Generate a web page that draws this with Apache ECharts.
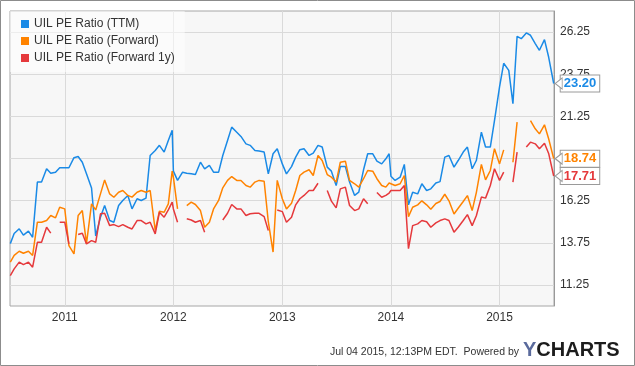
<!DOCTYPE html>
<html><head><meta charset="utf-8">
<script src="https://cdn.jsdelivr.net/npm/echarts@6/dist/echarts.min.js"></script>
<style>html,body{margin:0;padding:0;background:#fff}#c{width:635px;height:366px}</style>
</head><body><div id="c"></div>
<script>
const dates = ['2010-07-02','2010-07-15','2010-08-01','2010-08-15','2010-09-01','2010-09-15','2010-10-01','2010-10-15','2010-11-01','2010-11-15','2010-12-01','2010-12-15',
'2011-01-01','2011-01-15','2011-02-01','2011-02-15','2011-03-01','2011-03-15','2011-04-01','2011-04-15','2011-05-01','2011-05-15','2011-06-01','2011-06-15','2011-07-01','2011-07-15','2011-08-01','2011-08-15','2011-09-01','2011-09-15','2011-10-01','2011-10-15','2011-11-01','2011-11-15','2011-12-01','2011-12-15','2011-12-28',
'2012-01-01','2012-01-15','2012-02-01','2012-02-15','2012-03-01','2012-03-15','2012-04-01','2012-04-15','2012-05-01','2012-05-15','2012-06-01','2012-06-15','2012-07-01','2012-07-15','2012-08-01','2012-08-15','2012-09-01','2012-09-15','2012-10-01','2012-10-15','2012-11-01','2012-11-15','2012-12-01','2012-12-15',
'2013-01-01','2013-01-15','2013-02-01','2013-02-15','2013-03-01','2013-03-15','2013-04-01','2013-04-15','2013-05-01','2013-05-15','2013-06-01','2013-06-15','2013-07-01','2013-07-15','2013-08-01','2013-08-15','2013-09-01','2013-09-15','2013-10-01','2013-10-15','2013-11-01','2013-11-15','2013-12-01','2013-12-15','2013-12-26',
'2014-01-01','2014-01-15','2014-02-01','2014-02-15','2014-03-01','2014-03-15','2014-04-01','2014-04-15','2014-05-01','2014-05-15','2014-06-01','2014-06-15','2014-07-01','2014-07-15','2014-08-01','2014-08-15','2014-09-01','2014-09-15','2014-10-01','2014-10-15','2014-11-01','2014-11-15','2014-12-01','2014-12-15',
'2015-01-01','2015-01-15','2015-02-01','2015-02-15','2015-03-01','2015-03-15','2015-04-01','2015-04-15','2015-05-01','2015-05-15','2015-06-01','2015-06-15','2015-07-02'];

const ttm = [13.7,14.3,14.58,14.2,14.44,14.08,17.35,17.35,18.14,17.88,17.94,18.2,
18.2,18.2,18.8,18.87,18.53,17.84,17.0,14.15,15.27,15.96,15.07,14.97,15.96,16.26,16.56,15.76,16.36,16.26,16.4,18.93,19.23,19.53,19.13,19.82,20.42,
18.0,17.45,17.94,17.88,17.84,17.8,18.53,18.14,18.34,17.94,17.94,18.93,19.82,20.61,20.31,20.06,19.62,19.53,19.23,19.19,19.13,17.84,19.03,19.33,
18.43,17.84,18.27,18.83,19.27,19.33,18.93,19.07,19.53,19.43,18.24,18.0,17.15,18.27,18.27,17.35,16.56,16.75,18.08,19.03,19.03,18.59,18.43,18.73,19.03,
17.7,17.45,17.64,18.4,16.0,16.75,16.65,17.25,16.85,16.95,17.3,17.38,18.83,18.93,18.24,18.63,19.13,19.43,18.14,18.63,20.31,19.43,19.43,21.0,
23.0,24.4,23.98,22.0,26.0,25.86,26.2,26.06,25.57,25.17,25.8,24.77,23.2];

const fwd = [12.6,13.0,13.25,13.13,13.25,13.0,14.97,14.97,15.07,15.37,15.23,15.86,
15.76,13.58,13.09,15.37,15.66,13.7,16.06,15.7,16.65,17.48,16.65,16.45,16.75,16.85,16.56,16.46,16.75,16.85,16.75,16.85,14.48,15.62,15.56,16.06,18.0,
17.64,15.76,null,15.96,16.16,16.02,15.66,14.67,14.97,15.76,16.26,17.01,17.45,17.68,17.45,17.45,17.15,17.05,17.35,17.45,17.4,15.0,13.2,17.45,
16.36,15.76,16.1,16.85,17.74,17.94,18.08,17.74,18.93,18.63,17.8,17.64,17.35,18.53,18.59,17.45,17.25,17.05,17.55,18.04,18.0,17.55,17.15,17.05,17.3,
17.3,17.15,17.25,17.74,15.3,15.86,16.0,16.24,16.0,15.74,16.08,16.2,16.63,16.24,15.46,15.8,16.2,16.55,15.66,16.73,18.4,17.48,18.04,19.33,
18.43,19.26,null,18.53,20.91,null,null,21.0,20.51,20.21,20.75,19.92,18.74];

const fwd1y = [11.8,12.2,12.6,12.45,12.6,12.3,13.78,13.78,14.67,14.32,null,14.97,
14.97,13.68,null,14.24,14.32,13.68,13.88,13.78,15.47,15.5,14.77,14.83,14.71,14.83,14.67,14.57,15.07,15.07,14.87,14.97,14.28,15.56,15.27,15.7,16.16,
15.76,14.97,null,15.17,15.1,14.97,15.07,14.38,null,null,null,15.1,15.5,16.02,15.76,15.76,15.37,15.47,15.5,15.5,15.3,14.48,null,15.7,
15.6,14.97,15.27,16.0,16.36,16.56,16.85,16.85,17.28,null,16.85,16.22,15.82,16.95,17.05,15.96,15.66,15.76,16.36,16.06,null,16.73,16.45,16.56,16.7,
16.85,16.85,16.85,17.15,13.4,14.77,14.87,15.07,15.0,14.67,14.93,15.07,15.17,15.07,14.38,14.67,15.07,15.42,14.77,15.35,16.46,16.4,17.15,18.14,
17.45,17.94,null,17.35,19.13,null,19.43,19.72,19.62,19.33,19.66,19.05,17.71];

const seriesNames = ['UIL PE Ratio (TTM)', 'UIL PE Ratio (Forward)', 'UIL PE Ratio (Forward 1y)'];
const yTicks = [11.25, 13.75, 16.25, 18.75, 21.25, 23.75, 26.25];
const xTicks = ['2011-01-01','2012-01-01','2013-01-01','2014-01-01','2015-01-01'];
const colors = ['#1a8ae6', '#ff8300', '#e5393c'];

const ts = d => Date.parse(d);
const pairs = vals => dates.map((d, i) => [ts(d), vals[i] == null ? '-' : vals[i]]);
const font = 'Arial, "Liberation Sans", sans-serif';

function mk(name, vals, color) {
  const last = dates.length - 1;
  return {
    type: 'line', name, data: pairs(vals), showSymbol: false, symbol: 'none',
    connectNulls: false, animation: false,
    lineStyle: { width: 1.5, color }, itemStyle: { color },
    endLabel: {
      show: true, formatter: p => Number(p.value[1]).toFixed(2),
      color, fontWeight: 'bold', fontSize: 13, fontFamily: font,
      backgroundColor: '#fff', borderColor: '#9a9a9a', borderWidth: 1,
      padding: [2, 3, 1, 3], distance: 7
    },
    markPoint: {
      silent: true, animation: false, label: { show: false },
      symbol: 'path://M0,5 L7,0 L7,10 Z', symbolSize: [7, 11], symbolOffset: [5, 0],
      itemStyle: { color: '#fff', borderColor: '#9a9a9a', borderWidth: 1 },
      data: [{ coord: [ts(dates[last]), vals[last]] }]
    }
  };
}

const chart = echarts.init(document.getElementById('c'), null, { renderer: 'canvas' });
chart.setOption({
  animation: false,
  grid: { left: 10, right: 81, top: 11, bottom: 60, show: true, backgroundColor: '#f7f7f7', borderColor: '#a6a6a6', borderWidth: 1 },
  legend: {
    orient: 'vertical', left: 10, top: 11, padding: [7, 10, 8, 11], itemGap: 5,
    itemWidth: 8, itemHeight: 8, icon: 'rect', selectedMode: false,
    backgroundColor: 'rgba(255,255,255,0.5)',
    textStyle: { fontSize: 12, color: '#333', fontFamily: font },
    data: seriesNames
  },
  xAxis: {
    type: 'value', min: ts('2010-07-01'), max: ts('2015-07-03'),
    axisLine: { show: false },
    axisTick: { show: false, customValues: xTicks.map(ts) },
    axisLabel: { customValues: xTicks.map(ts), formatter: v => String(new Date(v).getUTCFullYear()), color: '#333', fontSize: 12, fontFamily: font, margin: 6 },
    splitLine: { show: true, lineStyle: { color: '#dadada' } }
  },
  yAxis: {
    type: 'value', position: 'right', min: 10, max: 27.5,
    axisLine: { show: true, lineStyle: { color: '#999' } },
    axisTick: { show: false, customValues: yTicks },
    axisLabel: { customValues: yTicks, formatter: v => v.toFixed(2), color: '#333', fontSize: 12, fontFamily: font, margin: 6 },
    splitLine: { show: true, lineStyle: { color: '#dadada' } }
  },
  series: [mk(seriesNames[0], ttm, colors[0]), mk(seriesNames[1], fwd, colors[1]), mk(seriesNames[2], fwd1y, colors[2])],
  graphic: [
    { type: 'rect', silent: true, shape: { x: 0.5, y: 0.5, width: 634, height: 365 }, style: { fill: 'none', stroke: '#8c8c8c', lineWidth: 1 } },
    { type: 'text', silent: true, right: 116, top: 347, style: { text: 'Jul 04 2015, 12:13PM EDT.  Powered by', fontSize: 10.5, fill: '#333', fontFamily: font } },
    { type: 'text', silent: true, left: 523, top: 340, style: { text: '{a|Y}{b|CHARTS}', rich: {
      a: { fill: '#5a6a9c', fontSize: 20, fontWeight: 'bold', fontFamily: font },
      b: { fill: '#1c1c1c', fontSize: 20, fontWeight: 'bold', fontFamily: font } } } }
  ]
});
</script></body></html>
